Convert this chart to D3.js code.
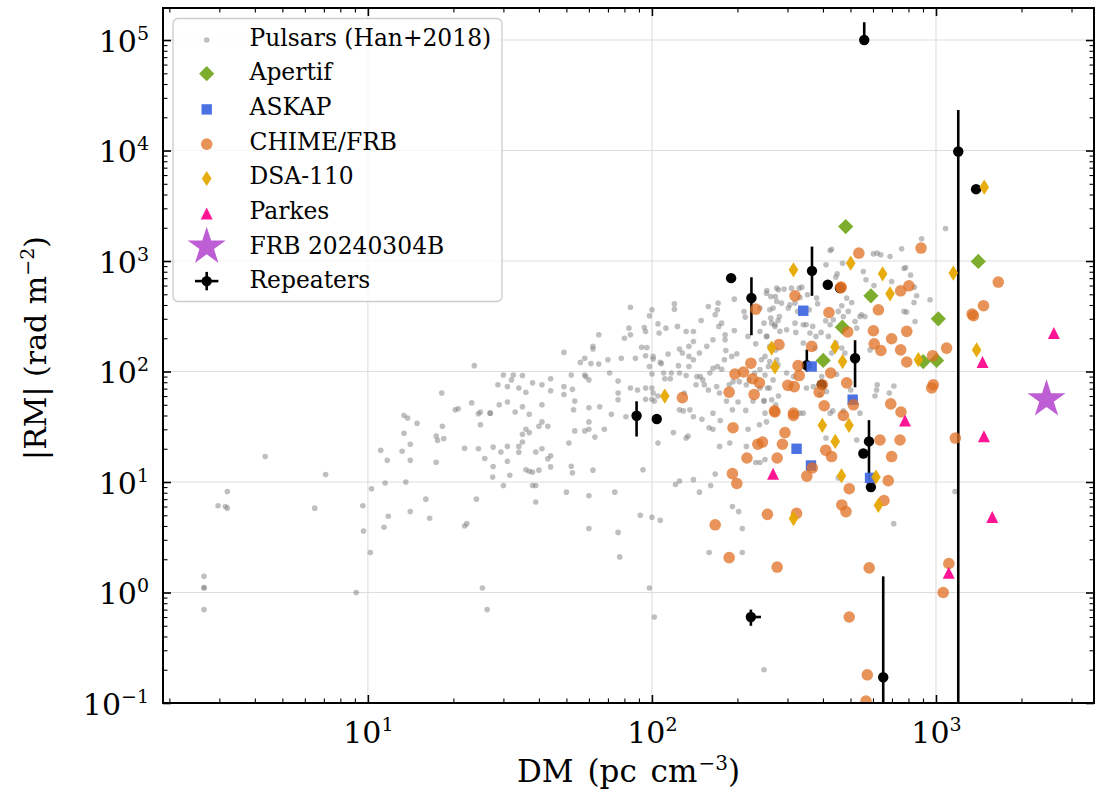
<!DOCTYPE html>
<html>
<head>
<meta charset="utf-8">
<script src="https://cdn.jsdelivr.net/npm/d3@7"></script>
<style>
  body { margin: 0; background: #ffffff; }
  text { font-family: "DejaVu Serif", serif; fill: #000; }
</style>
</head>
<body>
<svg id="chart" width="1096" height="793"></svg>
<script>
// ---------------------------------------------------------------
// |RM| versus DM for Galactic pulsars and FRBs
// ---------------------------------------------------------------

// Galactic pulsars (Han+2018): [DM, |RM|]
const pulsars = [
  [23.7,113],[18.2,64],[20.3,45],[20.8,46],[23.2,52],[24.5,41.5],[24.9,43],[24.9,33],[13.4,40],[13.8,38],
  [14.9,34],[13.4,27.6],[17.4,26],[17.6,23.8],[18.5,24.8],[18.3,32],[14.1,22],[11.1,19.4],[13.2,19],[11.7,15.7],
  [14.1,15.7],[17.4,15.1],[21.9,20.2],[24.5,20],[25.8,16.3],[26.9,42],[4.35,17],[7.1,11.7],[10.3,8.7],[11.5,9.8],
  [13.6,10],[16.0,7.0],[24.1,7.0],[3.2,8.2],[2.97,6.1],[3.15,6.0],[3.2,5.8],[6.5,5.8],[9.6,6.1],[9.65,3.6],
  [11.8,4.9],[11.4,3.9],[14.1,5.4],[16.5,4.7],[21.9,4.0],[22.3,4.2],[10.2,2.3],[2.65,1.4],[2.65,1.11],[2.65,1.1],
  [2.65,0.70],[9.1,1.0],[25.3,1.1],[26.3,0.70],
  [84,382],[100,362],[120,410],[120,367],[98,319],[105,270],[112,247],[123,256],[132,230],[140,230],
  [149,290],[158,388],[170,362],[171,416],[167,326],[176,274],[172,256],[181,215],[195,452],[211,349],
  [213,311],[218,208],[232,178],[195,235],[254,541],[275,568],[262,478],[272,478],[267,375],[262,304],
  [278,290],[248,274],[240,230],[254,208],[260,169],[271,256],[83,247],[84,215],[80,200],[94,250],
  [95,230],[92,166],[96,165],[101,137],[106,223],[107,121],[114,144],[125,160],[128,147],[135,169],
  [140,187],[147,147],[156,169],[164,194],[181,194],[182,155],[199,145],[191,137],[180,128],[176,105],
  [170,111],[164,107],[160,97],[151,84],[144,90],[132,92],[125,97],[124,113],[135,111],[140,128],
  [135,137],[117,97],[110,97],[116,86],[111,86],[98,111],[100,95],[108,118],[101,130],[95,139],
  [87.5,132],[78,132],[70,128],[65,117],[62,169],[62,160],[65,215],[58,132],[56,121],[61,118],
  [49,149],[58,93],[58.5,90],[52,93],[60,84],[71,97],[76,82],[76,64],[76,55.5],[84,71],
  [89,68],[95,71],[100,71],[101,64],[100,56],[105,60],[95,56],[102,54],[81,39],[72,41],
  [60,47],[65.5,48],[53,45],[53.5,54],[52.5,69],[49,73],[49,62],[44,67],[44,86],[41,76],
  [38,79],[35,92],[32.5,93],[30,93],[32,84],[28.7,76],[31,73],[34,71],[36,65],[35,48],
  [33,43],[31,53],[29,50],[27,42],[37,41],[41,50],[41,35],[40,32],[43,32],[36,30],
  [37,28],[35,27],[35,23],[31,21],[27.6,20.7],[60,35],[60,30],[58,29],[63,25.5],[68,30],
  [53.5,29],[51,22.5],[125,45],[129,44],[136,45],[140,39],[150,37],[164,42],[159,31],[174,36],
  [183,54],[201,53],[192,45],[214,44.5],[227,54],[248,54],[250,42],[253,35],[239,33],[218,30],
  [215,21],[188,22.5],[173,21],[164,30],[134,26],[132,25],[119,28],[105,22.5],[130,64],[143,76],
  [148,90],[153,76],[158,68],[169,73],[173,64],[187,76],[193,81],[203,81],[215,76],[220,84],
  [230,97],[240,104],[250,93],[260,123],[275,128],[278,115],[259,71],[267,84],[264,55.5],[273,50],
  [29.4,18.7],[34,21],[34,18.6],[27.6,13.8],[31,15.4],[31.6,11.5],[27.5,11.1],[39,18.7],[41,20],[44,17.3],
  [43,16.2],[44,13.7],[52,13.9],[52.5,12.1],[62,12.8],[36,12.9],[37,12.5],[38,12.3],[40,12.8],[30,9.3],
  [38,9.3],[39,9.3],[39,6.6],[50,8.1],[60,7.5],[74,8.1],[93,12.9],[125,10.2],[121,9.5],[140,10.5],
  [147,8.1],[161,9.3],[167,11.8],[192,6.0],[202,5.4],[208,3.8],[159,2.3],[208,2.3],[91,5.0],[100,4.8],
  [107,4.5],[60,3.8],[76,3.5],[77,2.1],[98,1.1],[102,0.6],[248,0.2],[232,15],[240,15],[250,16],
  [1080,1970],[890,1590],[757,1290],[689,1100],[639,1140],[621,1180],[602,1160],[424,1245],[429,1280],[410,924],
  [469,956],[449,766],[444,715],[555,804],[567,676],[605,601],[698,653],[772,856],[782,874],[814,745],
  [839,580],[855,485],[837,422],[953,446],[844,284],[772,350],[788,345],[547,326],[562,315],[505,422],
  [485,462],[466,394],[453,350],[472,315],[491,350],[435,294],[424,265],[409,288],[394,226],[418,208],
  [444,181],[466,163],[478,147],[360,223],[349,265],[341,265],[319,274],[321,226],[298,239],[282,231],
  [253,208],[264,274],[271,265],[240,375],[275,431],[292,557],[310,568],[279,549],[253,512],[330,568],
  [337,580],[332,468],[353,495],[380,462],[383,410],[358,362],[319,416],[306,402],[326,350],[302,375],
  [286,416],[260,362],[281,315],[368,256],[378,208],[429,147],[341,181],[273,157],[250,137],[257,111],
  [298,97],[240,71],[255,71],[243,128],[315,90],[279,60],[350,71],[370,73],[396,90],[447,94],
  [501,68],[618,68],[610,60],[685,64],[711,74],[375,163],[586,157],[526,247],[519,284],[540,315],
  [248,54.5],[332,42],[341,42],[424,42],[433,44],[391,62],[412,66],[472,44],[540,42],[621,76],
  [410,25],[526,24],[453,10.9],[1167,8.2],[710,4.2]
];

// Apertif FRBs: [DM, |RM|]
const apertif = [[481,2050],[590,484],[1409,991],[1019,300],[468,252],[401,126],[902,123],[1005,126]];

// ASKAP FRBs
const askap = [[341,355],[365,111],[509,55.6],[323,20],[363,14.1],[586,10.9]];

// CHIME/FRB
const chime = [
  [535,1180],[886,1310],[1657,645],[1470,394],[1340,331],[1355,320],[803,597],[751,538],[463,581],[319,484],
  [627,362],[420,342],[489,228],[602,234],[789,231],[698,198],[606,178],[640,155],[751,157],[789,122],
  [1090,163],[973,139],[365,169],[280,175],[327,113],[330,92],[426,97],[301,75],[317,73],[398,76],
  [485,79],[978,76],[966,71],[388,65],[512,50],[693,51],[753,43],[271,43],[315,42],[315,40],
  [404,49],[472,40],[294,28],[245,23],[288,22],[409,19.4],[429,17],[276,16.5],[635,24],[747,24],
  [698,17],[1170,25],[367,13.4],[351,11.3],[679,10.3],[495,8.7],[656,6.8],[466,6.2],[482,5.4],[323,5.2],
  [255,5.1],[276,1.7],[582,1.67],[1110,1.83],[1060,1.0],[495,0.6],[573,0.18],[567,0.104],[232,367],[223,119],
  [196,95],[210,99],[226,86],[239,79],[187,65],[229,62],[128,58],[270,44],[193,31],[236,22],
  [216,16.5],[192,11.9],[199,9.7],[167,4.1],[187,2.07],[463,575]
];

// DSA-110
const dsa = [
  [315,832],[501,957],[649,766],[689,505],[1151,778],[1479,4660],[264,163],[271,110],[441,167],[469,123],
  [867,128],[1390,157],[111,60],[398,32.6],[494,32.6],[442,23.3],[465,11.4],[615,11.1],[627,6.15],[315,4.67]
];

// Parkes
const parkes = [[2601,223],[1459,122],[778,36.1],[1475,25.9],[267,11.9],[1578,4.83],[1109,1.51]];

// FRB 20240304B
const frbStar = [[2450,56]];

// Repeating FRBs with |RM| uncertainties (lower, upper) and DM uncertainty (upper)
const repDM      = [559, 1198, 1384, 366, 416, 351, 519, 581, 555, 590, 652, 88.3, 104, 190, 224, 223, 396, 459];
const repRM      = [1.0e5, 9800, 4470, 815, 610, 114, 132, 23.3, 18.1, 9.0, 0.171, 39.8, 37.2, 700, 463, 0.60, 76, 569];
const repErrLow  = [0, 13500, 0, 331, 0, 14, 60, 13, 0, 0, 1.23, 14, 0, 0, 250, 0.1, 0, 0];
const repErrHigh = [45000, 13500, 0, 537, 0, 44, 60, 13, 0, 0, 1.23, 14, 0, 0, 250, 0.1, 0, 0];
const repDMErr   = [0, 0, 0, 0, 0, 0, 0, 0, 0, 0, 0, 0, 0, 0, 0, 19, 0, 0];

// Axis ticks
const xMajor = [10, 100, 1000];
const yMajor = [1e-1, 1e0, 1e1, 1e2, 1e3, 1e4, 1e5];
const xExp = [1, 2, 3];
const yExp = [-1, 0, 1, 2, 3, 4, 5];

// Legend entries
const legendLabels = ["Pulsars (Han+2018)", "Apertif", "ASKAP", "CHIME/FRB", "DSA-110", "Parkes", "FRB 20240304B", "Repeaters"];

// ---------------------------------------------------------------
const plot = { left: 163, right: 1094, top: 8, bottom: 703 };

const x = d3.scaleLog().domain([1.9, 3600]).range([plot.left, plot.right]);
const y = d3.scaleLog().domain([0.1, 1.95e5]).range([plot.bottom, plot.top]);

const svg = d3.select("#chart");

// minor tick values for log axes
function minorTicks(scale) {
  const [a, b] = scale.domain();
  const out = [];
  for (let e = Math.floor(Math.log10(a)); e <= Math.ceil(Math.log10(b)); e++) {
    for (let m = 2; m <= 9; m++) {
      const v = m * Math.pow(10, e);
      if (v >= a && v <= b) out.push(+v.toPrecision(6));
    }
  }
  return out;
}

svg.append("defs").append("clipPath").attr("id", "plotClip")
  .append("rect")
  .attr("x", plot.left).attr("y", plot.top)
  .attr("width", plot.right - plot.left).attr("height", plot.bottom - plot.top);

// grid
const grid = svg.append("g").attr("stroke", "#dddddd").attr("stroke-width", 1.1);
grid.selectAll(".gx").data(xMajor).join("line")
  .attr("x1", d => x(d)).attr("x2", d => x(d))
  .attr("y1", plot.top).attr("y2", plot.bottom);
grid.selectAll(".gy").data(yMajor).join("line")
  .attr("y1", d => y(d)).attr("y2", d => y(d))
  .attr("x1", plot.left).attr("x2", plot.right);

// marker shapes
const shapes = {
  diamond: h => `M0,${-h}L${h},0L0,${h}L${-h},0Z`,
  thinDiamond: (w, h) => `M0,${-h}L${w},0L0,${h}L${-w},0Z`,
  square: s => `M${-s},${-s}H${s}V${s}H${-s}Z`,
  triangle: s => `M0,${-s}L${s},${s}L${-s},${s}Z`,
  star: R => {
    const r = R * 0.381966;
    let p = "";
    for (let i = 0; i < 10; i++) {
      const rad = i % 2 === 0 ? R : r;
      const a = -Math.PI / 2 + i * Math.PI / 5;
      p += (i === 0 ? "M" : "L") + (rad * Math.cos(a)).toFixed(2) + "," + (rad * Math.sin(a)).toFixed(2);
    }
    return p + "Z";
  }
};

const styles = {
  pulsar:  { fill: "#808080", opacity: 0.5 },
  apertif: { fill: "#76a922", opacity: 0.95 },
  askap:   { fill: "#4169e1", opacity: 0.95 },
  chime:   { fill: "#df6f22", opacity: 0.75 },
  dsa:     { fill: "#e6a800", opacity: 0.95 },
  parkes:  { fill: "#ff1493", opacity: 1 },
  star:    { fill: "#ba55d3", opacity: 0.95 }
};

const data = svg.append("g").attr("clip-path", "url(#plotClip)");

// pulsars
data.append("g").selectAll("circle").data(pulsars).join("circle")
  .attr("cx", d => x(d[0])).attr("cy", d => y(d[1])).attr("r", 2.8)
  .attr("fill", styles.pulsar.fill).attr("fill-opacity", styles.pulsar.opacity);

// repeaters with error bars
const reps = repDM.map((dm, i) => ({ dm, rm: repRM[i], lo: repErrLow[i], hi: repErrHigh[i], dx: repDMErr[i] }));
const repG = data.append("g");
repG.selectAll("line.ey").data(reps.filter(d => d.lo > 0 || d.hi > 0)).join("line")
  .attr("class", "ey")
  .attr("x1", d => x(d.dm)).attr("x2", d => x(d.dm))
  .attr("y1", d => y(d.rm + d.hi))
  .attr("y2", d => (d.rm - d.lo > 0 ? y(d.rm - d.lo) : plot.bottom + 20))
  .attr("stroke", "#000").attr("stroke-width", 2.6);
repG.selectAll("line.ex").data(reps.filter(d => d.dx > 0)).join("line")
  .attr("class", "ex")
  .attr("y1", d => y(d.rm)).attr("y2", d => y(d.rm))
  .attr("x1", d => x(d.dm)).attr("x2", d => x(d.dm + d.dx))
  .attr("stroke", "#000").attr("stroke-width", 2.6);
repG.selectAll("circle").data(reps).join("circle")
  .attr("cx", d => x(d.dm)).attr("cy", d => y(d.rm)).attr("r", 5.2).attr("fill", "#000");

function drawPaths(arr, path, st) {
  data.append("g").selectAll("path").data(arr).join("path")
    .attr("transform", d => `translate(${x(d[0])},${y(d[1])})`)
    .attr("d", path)
    .attr("fill", st.fill).attr("fill-opacity", st.opacity);
}

drawPaths(apertif, shapes.diamond(7.6), styles.apertif);
drawPaths(askap, shapes.square(5.2), styles.askap);
data.append("g").selectAll("circle").data(chime).join("circle")
  .attr("cx", d => x(d[0])).attr("cy", d => y(d[1])).attr("r", 5.8)
  .attr("fill", styles.chime.fill).attr("fill-opacity", styles.chime.opacity);
drawPaths(dsa, shapes.thinDiamond(4.8, 7.6), styles.dsa);
drawPaths(parkes, shapes.triangle(6), styles.parkes);
drawPaths(frbStar, shapes.star(20), styles.star);

// axes: major and minor ticks pointing inward on all four sides
function styleAxis(g, width) {
  g.select(".domain").remove();
  g.selectAll(".tick line").attr("stroke", "#000").attr("stroke-width", width);
}
const axes = svg.append("g");

const xAxisB = axes.append("g").attr("transform", `translate(0,${plot.bottom})`)
  .call(d3.axisBottom(x).tickValues(xMajor).tickSizeInner(-8).tickSizeOuter(0).tickPadding(0));
styleAxis(xAxisB, 1.6);
xAxisB.selectAll(".tick text").each(function (d, i) {
  const t = d3.select(this).text(null).attr("y", 40).attr("dy", null)
    .attr("font-size", 30).attr("font-family", "DejaVu Serif");
  t.append("tspan").text("10");
  t.append("tspan").attr("dy", -12).attr("font-size", 19).text(xExp[i]);
});
axes.append("g").attr("transform", `translate(0,${plot.bottom})`)
  .call(d3.axisBottom(x).tickValues(minorTicks(x)).tickSizeInner(-4.5).tickSizeOuter(0).tickFormat(""))
  .call(g => styleAxis(g, 1.1));

axes.append("g").attr("transform", `translate(0,${plot.top})`)
  .call(d3.axisTop(x).tickValues(xMajor).tickSizeInner(-8).tickSizeOuter(0).tickFormat(""))
  .call(g => styleAxis(g, 1.6));
axes.append("g").attr("transform", `translate(0,${plot.top})`)
  .call(d3.axisTop(x).tickValues(minorTicks(x)).tickSizeInner(-4.5).tickSizeOuter(0).tickFormat(""))
  .call(g => styleAxis(g, 1.1));

const yAxisL = axes.append("g").attr("transform", `translate(${plot.left},0)`)
  .call(d3.axisLeft(y).tickValues(yMajor).tickSizeInner(-8).tickSizeOuter(0).tickPadding(14));
styleAxis(yAxisL, 1.6);
yAxisL.selectAll(".tick text").each(function (d, i) {
  const t = d3.select(this).text(null).attr("dy", null).attr("y", 11)
    .attr("font-size", 30).attr("font-family", "DejaVu Serif");
  t.append("tspan").text("10");
  const e = yExp[i];
  t.append("tspan").attr("dy", -12).attr("font-size", 19).text(e < 0 ? "\u2212" + (-e) : e);
});
axes.append("g").attr("transform", `translate(${plot.left},0)`)
  .call(d3.axisLeft(y).tickValues(minorTicks(y)).tickSizeInner(-4.5).tickSizeOuter(0).tickFormat(""))
  .call(g => styleAxis(g, 1.1));

axes.append("g").attr("transform", `translate(${plot.right},0)`)
  .call(d3.axisRight(y).tickValues(yMajor).tickSizeInner(-8).tickSizeOuter(0).tickFormat(""))
  .call(g => styleAxis(g, 1.6));
axes.append("g").attr("transform", `translate(${plot.right},0)`)
  .call(d3.axisRight(y).tickValues(minorTicks(y)).tickSizeInner(-4.5).tickSizeOuter(0).tickFormat(""))
  .call(g => styleAxis(g, 1.1));

// frame
svg.append("rect")
  .attr("x", plot.left).attr("y", plot.top)
  .attr("width", plot.right - plot.left).attr("height", plot.bottom - plot.top)
  .attr("fill", "none").attr("stroke", "#000").attr("stroke-width", 2);

// axis labels
const xl = svg.append("text").attr("x", (plot.left + plot.right) / 2).attr("y", 782)
  .attr("text-anchor", "middle").attr("font-size", 31).attr("word-spacing", 4);
xl.append("tspan").text("DM (pc cm");
xl.append("tspan").attr("dx", 1).attr("dy", -12).attr("font-size", 20).text("\u22123");
xl.append("tspan").attr("dy", 12).text(")");

const yl = svg.append("text").attr("transform", `translate(46,348) rotate(-90)`)
  .attr("text-anchor", "middle").attr("font-size", 30);
yl.append("tspan").text("|RM| (rad m");
yl.append("tspan").attr("dy", -12).attr("font-size", 19).text("\u22122");
yl.append("tspan").attr("dy", 12).text(")");

// legend
const lg = svg.append("g");
lg.append("rect").attr("x", 173).attr("y", 18.5).attr("width", 329).attr("height", 283).attr("rx", 5)
  .attr("fill", "#fff").attr("fill-opacity", 0.8).attr("stroke", "#cccccc").attr("stroke-width", 1.3);
const mx = 206.7, tx = 249.5, base0 = 45.5, step = 34.7;
const rowY = i => base0 + i * step;
lg.selectAll("text").data(legendLabels).join("text")
  .attr("x", tx).attr("y", (d, i) => rowY(i)).attr("font-size", 23.4).text(d => d);

lg.append("circle").attr("cx", mx).attr("cy", rowY(0) - 5.5).attr("r", 2.8)
  .attr("fill", styles.pulsar.fill).attr("fill-opacity", styles.pulsar.opacity);
lg.append("path").attr("transform", `translate(${mx},${rowY(1) - 6.5})`).attr("d", shapes.diamond(7.6))
  .attr("fill", styles.apertif.fill).attr("fill-opacity", styles.apertif.opacity);
lg.append("path").attr("transform", `translate(${mx},${rowY(2) - 5.5})`).attr("d", shapes.square(5.2))
  .attr("fill", styles.askap.fill).attr("fill-opacity", styles.askap.opacity);
lg.append("circle").attr("cx", mx).attr("cy", rowY(3) - 5.5).attr("r", 5.8)
  .attr("fill", styles.chime.fill).attr("fill-opacity", styles.chime.opacity);
lg.append("path").attr("transform", `translate(${mx},${rowY(4) - 5.8})`).attr("d", shapes.thinDiamond(4.8, 7.6))
  .attr("fill", styles.dsa.fill).attr("fill-opacity", styles.dsa.opacity);
lg.append("path").attr("transform", `translate(${mx},${rowY(5) - 5.5})`).attr("d", shapes.triangle(6))
  .attr("fill", styles.parkes.fill).attr("fill-opacity", styles.parkes.opacity);
lg.append("path").attr("transform", `translate(${mx},${rowY(6) - 7})`).attr("d", shapes.star(20))
  .attr("fill", styles.star.fill).attr("fill-opacity", styles.star.opacity);
const ry = rowY(7) - 7.3;
lg.append("line").attr("x1", mx - 11.7).attr("x2", mx + 11.7).attr("y1", ry).attr("y2", ry)
  .attr("stroke", "#000").attr("stroke-width", 2.6);
lg.append("line").attr("x1", mx).attr("x2", mx).attr("y1", ry - 9.2).attr("y2", ry + 9.2)
  .attr("stroke", "#000").attr("stroke-width", 2.6);
lg.append("circle").attr("cx", mx).attr("cy", ry).attr("r", 5.2).attr("fill", "#000");
</script>
</body>
</html>
